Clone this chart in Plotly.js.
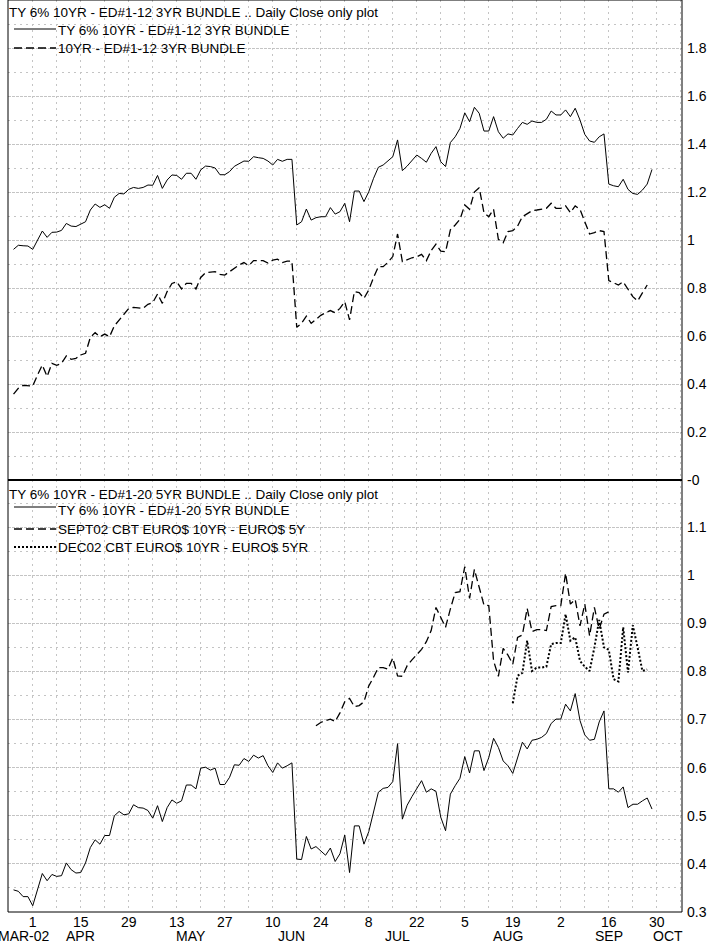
<!DOCTYPE html>
<html><head><meta charset="utf-8">
<script src="https://cdn.plot.ly/plotly-3.0.1.min.js"></script>
<style>html,body{margin:0;padding:0;background:#fff}</style>
</head><body><div id="chart" style="width:720px;height:943px"></div>
<script>
// x = weekday index, Mon 25-Mar-2002 = 0
const tickIdx = [5,15,25,35,45,55,65,75,85,95,105,115,125,135];
const tickLabels = ['1','15','29','13','27','10','24','8','22','5','19','2','16','30'];
const monthNames = ['MAR-02','APR','MAY','JUN','JUL','AUG','SEP','OCT'];
const monthIdx = [3.2,15,38,59,81,104,125,137.4];

const topTitle = 'TY 6% 10YR - ED#1-12 3YR BUNDLE .. Daily Close only plot';
const botTitle = 'TY 6% 10YR - ED#1-20 5YR BUNDLE .. Daily Close only plot';
const seriesNames = ['TY 6% 10YR - ED#1-12 3YR BUNDLE', '10YR - ED#1-12 3YR BUNDLE',
  'TY 6% 10YR - ED#1-20 5YR BUNDLE', 'SEPT02 CBT EURO$ 10YR - EURO$ 5Y', 'DEC02 CBT EURO$ 10YR - EURO$ 5YR'];

// Top panel: first value at index 1
const ty3yr = [0.961,0.978,0.976,0.975,0.961,1.000,1.0375,1.011,1.032,1.033,
1.040,1.069,1.058,1.056,1.065,1.076,1.125,1.150,1.136,1.147,
1.132,1.178,1.194,1.192,1.211,1.219,1.215,1.219,1.229,1.228,
1.269,1.215,1.250,1.271,1.269,1.253,1.278,1.278,1.253,1.292,
1.308,1.306,1.300,1.272,1.272,1.285,1.307,1.317,1.329,1.328,
1.347,1.343,1.340,1.329,1.3125,1.336,1.328,1.336,1.336,1.0625,
1.076,1.129,1.083,1.093,1.097,1.097,1.135,1.108,1.118,1.153,
1.076,1.204,1.204,1.160,1.201,1.257,1.303,1.3125,1.330,1.347,
1.417,1.289,1.308,1.330,1.354,1.340,1.324,1.361,1.389,1.326,
1.306,1.406,1.430,1.465,1.530,1.493,1.553,1.528,1.454,1.454,
1.514,1.451,1.424,1.442,1.4375,1.465,1.490,1.482,1.496,1.490,
1.490,1.503,1.5375,1.521,1.521,1.542,1.514,1.549,1.500,1.440,
1.4125,1.407,1.430,1.442,1.233,1.226,1.222,1.253,1.211,1.194,
1.190,1.208,1.233,1.294];
const tenYr3yr = [0.358,0.382,0.394,0.394,0.392,0.4375,0.479,0.431,0.486,0.478,
0.486,0.517,0.503,0.507,0.521,0.528,0.594,0.614,0.597,0.608,
0.597,0.642,0.667,0.6875,0.715,0.719,0.718,0.715,0.732,0.739,
0.775,0.736,0.785,0.819,0.826,0.796,0.819,0.819,0.796,0.844,
0.864,0.865,0.868,0.857,0.854,0.868,0.882,0.896,0.906,0.893,
0.914,0.9125,0.914,0.904,0.916,0.920,0.906,0.912,0.912,0.636,
0.653,0.683,0.653,0.669,0.686,0.697,0.706,0.697,0.715,0.743,
0.667,0.785,0.781,0.757,0.792,0.844,0.889,0.889,0.907,0.931,
1.025,0.910,0.919,0.926,0.930,0.940,0.914,0.956,0.983,0.954,
0.951,1.042,1.0625,1.086,1.146,1.128,1.200,1.218,1.114,1.097,
1.128,1.003,0.989,1.035,1.039,1.058,1.097,1.108,1.122,1.125,
1.129,1.132,1.153,1.132,1.132,1.142,1.114,1.142,1.128,1.072,
1.025,1.031,1.039,1.035,0.831,0.822,0.8125,0.826,0.794,0.764,
0.746,0.781,0.8125];

// Bottom panel
const ty5yr = [0.346,0.343,0.332,0.332,0.313,0.348,0.380,0.365,0.378,0.374,
0.3755,0.402,0.388,0.381,0.382,0.402,0.434,0.450,0.441,0.459,
0.459,0.500,0.509,0.502,0.504,0.523,0.517,0.516,0.511,0.495,
0.521,0.488,0.517,0.533,0.526,0.531,0.564,0.564,0.556,0.599,
0.601,0.595,0.599,0.565,0.565,0.580,0.606,0.605,0.619,0.613,
0.626,0.620,0.625,0.604,0.590,0.610,0.599,0.604,0.610,0.410,
0.409,0.457,0.431,0.436,0.427,0.418,0.433,0.405,0.421,0.460,
0.382,0.479,0.479,0.441,0.467,0.507,0.549,0.557,0.559,0.571,
0.650,0.493,0.522,0.540,0.557,0.573,0.549,0.556,0.551,0.497,
0.469,0.545,0.5625,0.578,0.623,0.589,0.635,0.635,0.594,0.621,
0.661,0.642,0.614,0.604,0.588,0.620,0.653,0.639,0.657,0.659,
0.663,0.671,0.692,0.701,0.701,0.732,0.718,0.754,0.698,0.668,
0.657,0.659,0.695,0.718,0.556,0.556,0.549,0.560,0.517,0.524,
0.524,0.531,0.537,0.514];
const sept02Start = 64;
const sept02 = [0.687,0.694,0.698,0.701,0.696,0.714,0.737,0.744,0.727,0.729,
0.737,0.770,0.788,0.808,0.808,0.805,0.828,0.791,0.790,0.812,
0.824,0.834,0.846,0.862,0.885,0.933,0.912,0.892,0.930,0.964,
0.966,1.018,0.952,1.012,0.975,0.938,0.937,0.822,0.790,0.848,
0.834,0.815,0.871,0.876,0.931,0.883,0.887,0.887,0.885,0.935,
0.937,0.937,1.004,0.940,0.950,0.895,0.940,0.874,0.933,0.888,
0.919,0.924];
const dec02Start = 105;
const dec02 = [0.734,0.791,0.797,0.864,0.801,0.808,0.808,0.810,0.857,0.859,
0.859,0.919,0.864,0.871,0.822,0.810,0.801,0.850,0.907,0.850,
0.845,0.784,0.779,0.892,0.798,0.896,0.850,0.801,0.804];

const seq = (start, n) => Array.from({length: n}, (_, k) => start + k);

const F = '"Liberation Sans", Arial, sans-serif';
const solid = {color:'#000', width:1};
const dashed = {color:'#000', width:1.3, dash:'8px,4px'};
const dotted = {color:'#000', width:2, dash:'2px,2px'};

const traces = [
  {x: seq(1, ty3yr.length), y: ty3yr, xaxis:'x', yaxis:'y', mode:'lines', name:seriesNames[0], line:solid},
  {x: seq(1, tenYr3yr.length), y: tenYr3yr, xaxis:'x', yaxis:'y', mode:'lines', name:seriesNames[1], line:dashed},
  {x: seq(1, ty5yr.length), y: ty5yr, xaxis:'x', yaxis:'y2', mode:'lines', name:seriesNames[2], line:solid},
  {x: seq(sept02Start, sept02.length), y: sept02, xaxis:'x', yaxis:'y2', mode:'lines', name:seriesNames[3], line:dashed},
  {x: seq(dec02Start, dec02.length), y: dec02, xaxis:'x', yaxis:'y2', mode:'lines', name:seriesNames[4], line:dotted}
];

// layout geometry helpers (pixel -> paper)
const L = 8, PW = 674, PH = 912;
const px = p => (p - L) / PW;
const py = p => (PH - p) / PH;
const split = py(480);
const gridC = '#c4c4c4';
const topVals = [0,0.2,0.4,0.6,0.8,1,1.2,1.4,1.6,1.8,2];
const topText = ['-0','0.2','0.4','0.6','0.8','1','1.2','1.4','1.6','1.8','2'];
const botVals = [0.3,0.4,0.5,0.6,0.7,0.8,0.9,1,1.1];
const botText = ['0.3','0.4','0.5','0.6','0.7','0.8','0.9','1','1.1'];

const txtFont = {family:F, size:13.5, color:'#000'};
const annotations = monthNames.map((m, k) => ({
  text: m, x: monthIdx[k], xref:'x', y: py(936), yref:'paper', yanchor:'middle', xanchor:'center',
  showarrow:false, font:{family:F, size:14, color:'#000'}
}));
const shapes = [
  {type:'rect', xref:'paper', yref:'paper', x0:0, x1:1, y0:0, y1:1, line:{color:'#000', width:1}},
  {type:'line', xref:'paper', yref:'paper', x0:0, x1:1, y0:split, y1:split, line:{color:'#000', width:2}}
];
function addText(t, xp, yp) {
  annotations.push({text:t, x:px(xp), xref:'paper', y:py(yp), yref:'paper', xanchor:'left', yanchor:'middle',
    showarrow:false, font:txtFont, borderpad:0});
}
function addKey(line, yp) {
  shapes.push({type:'line', xref:'paper', yref:'paper', x0:px(14), x1:px(56), y0:py(yp), y1:py(yp),
    line:{color:line.color, width:line.width, dash:line.dash || 'solid'}});
}
// top legend
addText(topTitle, 8, 13);
addKey(solid, 29); addText(seriesNames[0], 57, 30);
addKey(dashed, 48); addText(seriesNames[1], 57, 48);
// bottom legend
addText(botTitle, 8, 494);
addKey(solid, 507); addText(seriesNames[2], 57, 510);
addKey(dashed, 529); addText(seriesNames[3], 57, 529);
addKey(dotted, 547); addText(seriesNames[4], 57, 547);

const layout = {
  width:720, height:943,
  margin:{l:8, r:38, t:0, b:31},
  paper_bgcolor:'#fff', plot_bgcolor:'#fff',
  font:{family:F, size:14, color:'#000'},
  showlegend:false,
  xaxis:{anchor:'y2', range:[-0.15,140.25], tickmode:'array', tickvals:tickIdx, ticktext:tickLabels,
    ticks:'', showline:false, zeroline:false, showgrid:true, gridcolor:gridC, griddash:'2px,4px', gridwidth:1,
    minor:{tickmode:'linear', tick0:0, dtick:5, showgrid:true, gridcolor:gridC, griddash:'2px,4px', gridwidth:1},
    tickfont:{family:F, size:14, color:'#000'}, ticklabelstandoff:0},
  yaxis:{domain:[split,1], range:[0,2], side:'right', tickmode:'array', tickvals:topVals, ticktext:topText,
    ticks:'', showline:false, zeroline:false, showgrid:true, gridcolor:gridC, griddash:'3px,1px', gridwidth:1,
    minor:{tickmode:'linear', tick0:0.1, dtick:0.2, showgrid:true, gridcolor:gridC, griddash:'2px,4px', gridwidth:1},
    tickfont:{family:F, size:14, color:'#000'}, ticklabelstandoff:4},
  yaxis2:{domain:[0,split], range:[0.3,1.198], side:'right', anchor:'x', tickmode:'array', tickvals:botVals, ticktext:botText,
    ticks:'', showline:false, zeroline:false, showgrid:true, gridcolor:gridC, griddash:'3px,1px', gridwidth:1,
    minor:{tickmode:'linear', tick0:0.35, dtick:0.1, showgrid:true, gridcolor:gridC, griddash:'2px,4px', gridwidth:1},
    tickfont:{family:F, size:14, color:'#000'}, ticklabelstandoff:4},
  shapes: shapes,
  annotations: annotations
};

Plotly.newPlot('chart', traces, layout, {staticPlot:true, displayModeBar:false});
</script>
</body></html>
